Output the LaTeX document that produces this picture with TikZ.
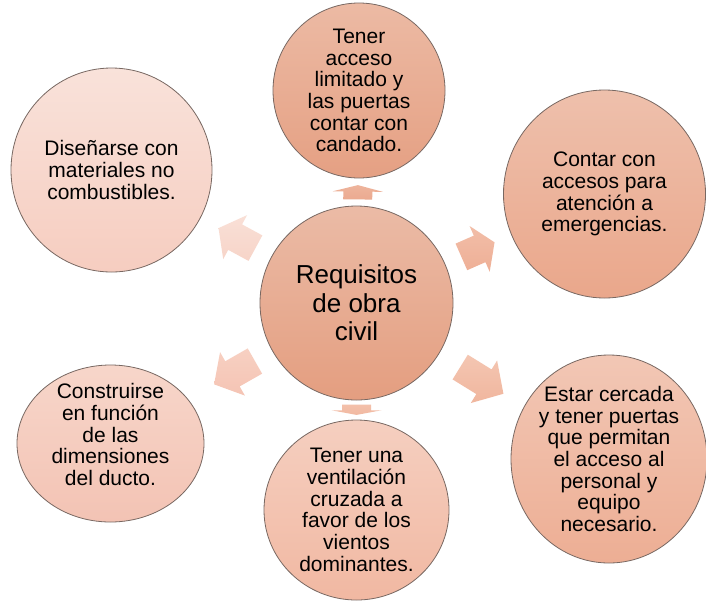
\documentclass[tikz,border=0pt]{standalone}
\usepackage{fontspec}
\setmainfont{Liberation Sans}
\usetikzlibrary{shapes.geometric,calc}

\definecolor{edgec}{RGB}{120,104,98}
\definecolor{cA}{RGB}{235,187,166}\definecolor{cB}{RGB}{228,158,128}
\definecolor{tA}{RGB}{236,186,164}\definecolor{tB}{RGB}{229,160,131}
\definecolor{trA}{RGB}{238,192,172}\definecolor{trB}{RGB}{234,167,139}
\definecolor{brA}{RGB}{242,199,181}\definecolor{brB}{RGB}{237,174,148}
\definecolor{bA}{RGB}{245,207,192}\definecolor{bB}{RGB}{241,184,162}
\definecolor{blA}{RGB}{247,214,202}\definecolor{blB}{RGB}{243,195,180}
\definecolor{tlA}{RGB}{249,226,218}\definecolor{tlB}{RGB}{246,205,192}

\tikzset{
  bubble/.style={ellipse, draw=edgec, line width=0.8pt, inner sep=-10pt,
    align=center, font=\fontsize{21pt}{21.7pt}\selectfont},
  hubfont/.style={font=\fontsize{26pt}{28.5pt}\selectfont},
  txt/.style={align=center, inner sep=0pt, font=\fontsize{21pt}{21.7pt}\selectfont}
}

\newcommand\blockarrow[6]{% from, to, d1, d2, top colour, bottom colour
  \coordinate (P) at ($(#1)!#3!(#2)$);
  \coordinate (Q) at ($(#1)!#4!(#2)$);
  \coordinate (H) at ($(P)!0.55!(Q)$);
  \shade[top color=#5, bottom color=#6]
    ($(P)!14.5pt!90:(Q)$) -- ($(H)!14.5pt!-90:(P)$) -- ($(H)!25pt!-90:(P)$)
    -- (Q) -- ($(H)!25pt!90:(P)$) -- ($(H)!14.5pt!90:(P)$)
    -- ($(P)!14.5pt!-90:(Q)$) -- cycle;
}

\begin{document}
\begin{tikzpicture}[x=1pt,y=-1pt]
\useasboundingbox (0,0) rectangle (706,603);
\fill[white] (0,0) rectangle (706,603);

\node[bubble, hubfont, minimum width=193pt, minimum height=194pt, top color=cA, bottom color=cB] (c) at (356.5,303) {Requisitos\\de obra\\civil};

\node[bubble, minimum width=172pt, minimum height=175pt, top color=tA, bottom color=tB] (t) at (359,90.5) {Tener\\acceso\\limitado y\\las puertas\\contar con\\candado.};

\node[bubble, minimum width=202pt, minimum height=208pt, top color=trA, bottom color=trB] (tr) at (604.5,194) {Contar con\\accesos para\\atención a\\emergencias.};

\node[bubble, minimum width=196pt, minimum height=208pt, top color=brA, bottom color=brB] (br) at (609,459) {Estar cercada\\y tener puertas\\que permitan\\el acceso al\\personal y\\equipo\\necesario.};

\node[bubble, minimum width=185pt, minimum height=180pt, top color=bA, bottom color=bB] (b) at (356.5,510) {Tener una\\ventilación\\cruzada a\\favor de los\\vientos\\dominantes.};

\node[bubble, minimum width=187pt, minimum height=157pt, top color=blA, bottom color=blB] (bl) at (110.5,443.5) {};
\node[txt] (bltext) at ($(bl.center)+(0,-9)$) {Construirse\\en función\\de las\\dimensiones\\del ducto.};

\node[bubble, minimum width=201pt, minimum height=204pt, top color=tlA, bottom color=tlB] (tl) at (111.5,170) {Diseñarse con\\materiales no\\combustibles.};

\blockarrow{c}{t}{103.6pt}{117.9pt}{{rgb,255:red,238;green,180;blue,156}}{{rgb,255:red,235;green,170;blue,144}}
\blockarrow{c}{tr}{114.6pt}{150.8pt}{{rgb,255:red,242;green,190;blue,168}}{{rgb,255:red,238;green,175;blue,150}}
\blockarrow{c}{br}{121.9pt}{172.7pt}{{rgb,255:red,244;green,198;blue,178}}{{rgb,255:red,240;green,182;blue,158}}
\blockarrow{c}{b}{101.6pt}{111.9pt}{{rgb,255:red,243;green,192;blue,170}}{{rgb,255:red,241;green,185;blue,162}}
\blockarrow{c}{bl}{117pt}{164pt}{{rgb,255:red,247;green,208;blue,194}}{{rgb,255:red,245;green,196;blue,180}}
\blockarrow{c}{tl}{115pt}{157pt}{{rgb,255:red,249;green,224;blue,215}}{{rgb,255:red,247;green,212;blue,200}}
\end{tikzpicture}
\end{document}
